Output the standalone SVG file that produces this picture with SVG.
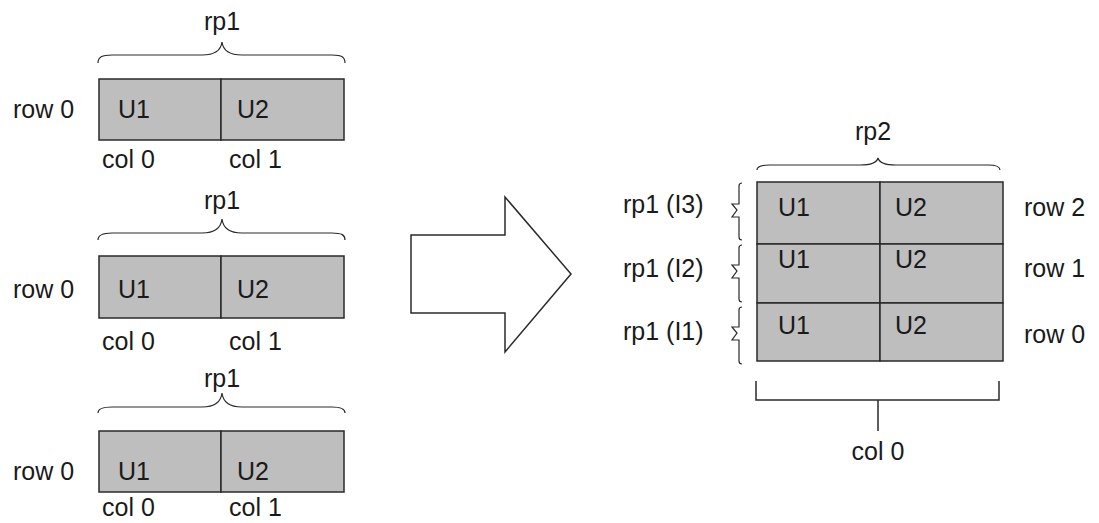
<svg xmlns="http://www.w3.org/2000/svg" width="1099" height="523" viewBox="0 0 1099 523">
<style>
text{font-family:"Liberation Sans",Arial,sans-serif;font-size:25px;fill:#1a1a1a}
.mid{text-anchor:middle}
.cell{fill:#bebebe;stroke:#2a2a2a;stroke-width:1.5}
.ln{fill:none;stroke:#2a2a2a;stroke-width:1.5}
.br{fill:none;stroke:#2a2a2a;stroke-width:1.2}
</style>
<rect width="1099" height="523" fill="#fff"/>
<g id="rp1-top">
<path class="br" d="M98,63 C98,57 102,55 112,55 L202,55 C215,55 221,50 222,42 C223,50 229,55 242,55 L332,55 C342,55 345,57 345,63"/>
<text class="mid" x="222" y="30">rp1</text>
<rect class="cell" x="99" y="79" width="122" height="61"/>
<rect class="cell" x="221" y="79" width="123" height="61"/>
<text x="13" y="118">row 0</text>
<text x="118" y="118">U1</text>
<text x="237" y="118">U2</text>
<text x="102" y="168">col 0</text>
<text x="229" y="168">col 1</text>
</g>
<g id="rp1-mid">
<path class="br" d="M98,240 C98,235 102,233 112,233 L202,233 C215,233 221,228 222,219 C223,228 229,233 242,233 L332,233 C342,233 345,235 345,240"/>
<text class="mid" x="222" y="209">rp1</text>
<rect class="cell" x="99" y="256" width="122" height="62"/>
<rect class="cell" x="221" y="256" width="123" height="62"/>
<text x="13" y="298">row 0</text>
<text x="118" y="298">U1</text>
<text x="237" y="298">U2</text>
<text x="102" y="350">col 0</text>
<text x="229" y="350">col 1</text>
</g>
<g id="rp1-bot">
<path class="br" d="M98,413 C98,409 102,407 112,407 L202,407 C215,407 221,402 222,393 C223,402 229,407 242,407 L332,407 C342,407 345,409 345,413"/>
<text class="mid" x="222" y="387">rp1</text>
<rect class="cell" x="99" y="431" width="122" height="61"/>
<rect class="cell" x="221" y="431" width="123" height="61"/>
<text x="13" y="480">row 0</text>
<text x="118" y="480">U1</text>
<text x="237" y="480">U2</text>
<text x="102" y="516">col 0</text>
<text x="229" y="516">col 1</text>
</g>
<g id="arrow">
<polygon class="ln" fill="#fff" points="411,235 505,235 505,197 571,274 505,352 505,313 411,313"/>
</g>
<g id="rp2">
<path class="br" d="M757,170 C757,167 760,165 770,165 L860,165 C872,165 877,162 878,158 C879,162 884,165 896,165 L988,165 C997,165 1000,167 1000,170"/>
<text class="mid" x="873" y="140">rp2</text>
<rect class="cell" x="757" y="182" width="123" height="62"/>
<rect class="cell" x="880" y="182" width="123" height="62"/>
<rect class="cell" x="757" y="244" width="123" height="59"/>
<rect class="cell" x="880" y="244" width="123" height="59"/>
<rect class="cell" x="757" y="303" width="123" height="58"/>
<rect class="cell" x="880" y="303" width="123" height="58"/>
<text x="778" y="216">U1</text>
<text x="895" y="216">U2</text>
<text x="778" y="268">U1</text>
<text x="895" y="268">U2</text>
<text x="778" y="334">U1</text>
<text x="895" y="334">U2</text>
<text x="1024" y="216">row 2</text>
<text x="1024" y="277">row 1</text>
<text x="1024" y="343">row 0</text>
</g>
<g id="rp1-labels">
<text x="623" y="213">rp1 (I3)</text>
<text x="623" y="277">rp1 (I2)</text>
<text x="623" y="340">rp1 (I1)</text>
<path class="br" d="M742,183 Q739,183 739,186 V204 H732 L737,210 L732,217 H739 V237 Q739,240 742,240"/>
<path class="br" d="M742,245 Q739,245 739,248 V265 H732 L737,271 L732,278 H739 V299 Q739,302 742,302"/>
<path class="br" d="M742,307 Q739,307 739,310 V327 H732 L737,333 L732,340 H739 V361 Q739,364 742,364"/>
</g>
<g id="col0">
<path class="ln" d="M756,381 V400 H999 V381 M878,400 V431"/>
<text class="mid" x="878" y="460">col 0</text>
</g>
</svg>
